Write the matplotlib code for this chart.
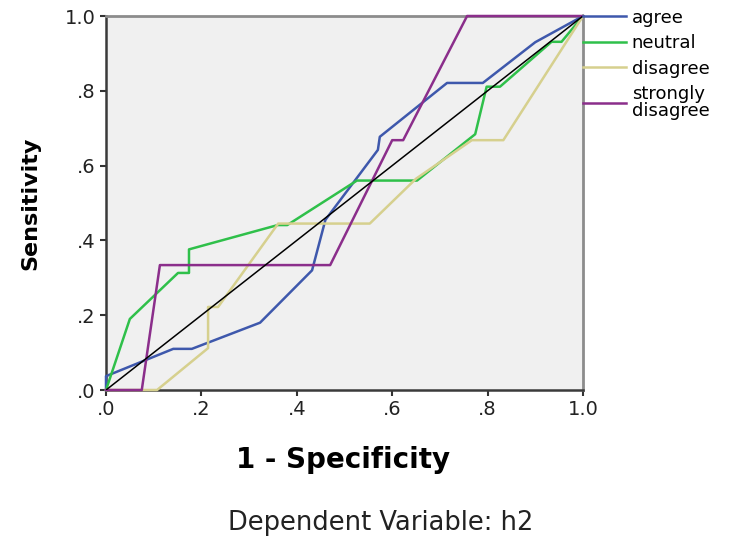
import numpy as np
import matplotlib
matplotlib.use("Agg")
import matplotlib.pyplot as plt

# ROC curves (1 - specificity, sensitivity)
agree_x = [0, 0, 0.141, 0.18, 0.323, 0.432, 0.46, 0.57, 0.574, 0.715, 0.79, 0.90, 1.0]
agree_y = [0, 0.037, 0.11, 0.11, 0.18, 0.32, 0.455, 0.642, 0.677, 0.821, 0.821, 0.93, 1.0]

neutral_x = [0, 0.05, 0.151, 0.174, 0.174, 0.36, 0.38, 0.526, 0.652, 0.774, 0.798, 0.826, 0.934, 0.955, 1.0]
neutral_y = [0, 0.19, 0.313, 0.313, 0.376, 0.441, 0.441, 0.56, 0.56, 0.684, 0.811, 0.811, 0.931, 0.931, 1.0]

disagree_x = [0, 0.107, 0.214, 0.214, 0.235, 0.361, 0.553, 0.65, 0.767, 0.833, 1.0]
disagree_y = [0, 0, 0.112, 0.222, 0.222, 0.445, 0.445, 0.565, 0.668, 0.668, 1.0]

strongly_x = [0, 0.075, 0.113, 0.47, 0.60, 0.623, 0.757, 1.0]
strongly_y = [0, 0, 0.334, 0.334, 0.668, 0.668, 1.0, 1.0]

labels = ["agree", "neutral", "disagree", "strongly\ndisagree"]
colors = ["#3e58ac", "#2fc04a", "#d6d08e", "#8b2e8b"]
ticks = [0, 0.2, 0.4, 0.6, 0.8, 1.0]
tick_labels = [".0", ".2", ".4", ".6", ".8", "1.0"]

fig = plt.figure(figsize=(7.34, 5.39), dpi=100)
ax = fig.add_axes([106/734, 1-390/539, 477/734, 374/539])
ax.set_facecolor("#f0f0f0")

series = [(agree_x, agree_y), (neutral_x, neutral_y),
          (disagree_x, disagree_y), (strongly_x, strongly_y)]
for (xs, ys), lab, col in zip(series, labels, colors):
    ax.plot(xs, ys, color=col, lw=1.8, label=lab, clip_on=False, zorder=3)

# reference diagonal
ax.plot([0, 1], [0, 1], color="black", lw=1.1, zorder=4)

ax.set_xlim(0, 1)
ax.set_ylim(0, 1)
ax.set_xticks(ticks)
ax.set_xticklabels(tick_labels)
ax.set_yticks(ticks)
ax.set_yticklabels(tick_labels)
ax.tick_params(direction="out", length=4.5, width=1.5, color="#333333",
               labelsize=14, pad=3, labelcolor="#222222")

for side in ["left", "bottom"]:
    ax.spines[side].set_color("#3a3a3a")
    ax.spines[side].set_linewidth(1.8)
for side in ["top", "right"]:
    ax.spines[side].set_color("#8c8c8c")
    ax.spines[side].set_linewidth(2)

ax.set_xlabel("1 - Specificity", fontsize=20, fontweight="bold")
ax.xaxis.set_label_coords(0.497, -0.187)
ax.xaxis.label.set_va("center")
ax.set_ylabel("Sensitivity", fontsize=16, fontweight="bold")
ax.yaxis.set_label_coords(-0.159, 0.5)
ax.yaxis.label.set_va("center")

leg = ax.legend(loc="upper left", bbox_to_anchor=(1.0, 1.02), frameon=False,
                fontsize=13, handlelength=2.4, handletextpad=0.3,
                borderpad=0, borderaxespad=0, labelspacing=0.42)
for line in leg.get_lines():
    line.set_linewidth(1.8)
for t in leg.get_texts():
    t.set_linespacing(0.9)

fig.text(381/734, 1-523/539, "Dependent Variable: h2", ha="center", va="center",
         fontsize=18.5, color="#222222")

fig.savefig("out.png", dpi=100)
